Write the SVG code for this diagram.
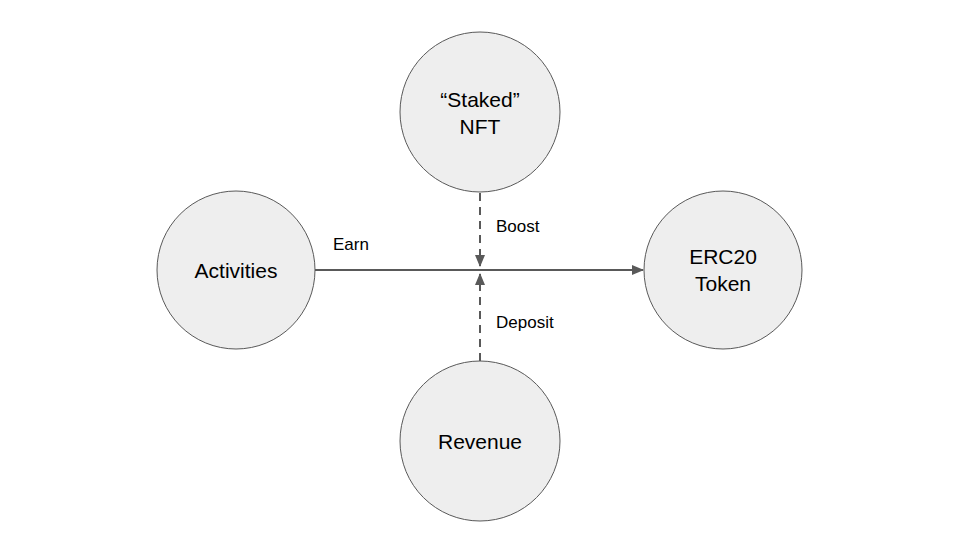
<svg xmlns="http://www.w3.org/2000/svg" width="960" height="540" viewBox="0 0 960 540">
<style>
.node circle{fill:#eeeeee;stroke:#595959;stroke-width:1}
.nt{font-family:"Liberation Sans",Arial,sans-serif;font-size:21px;fill:#000;text-anchor:middle}
.lbl{font-family:"Liberation Sans",Arial,sans-serif;font-size:17px;fill:#000}
.edge{stroke:#595959;stroke-width:2;fill:none}
.dash{stroke-dasharray:8,6}
</style>
<defs>
<marker id="arr" markerWidth="6" markerHeight="5" refX="5.5" refY="2.5" orient="auto" markerUnits="strokeWidth">
<path d="M0,0 L6,2.5 L0,5 Z" fill="#595959"/>
</marker>
</defs>
<rect width="960" height="540" fill="#ffffff"/>
<g id="connectors">
<line class="edge" x1="315" y1="270" x2="643" y2="270" marker-end="url(#arr)"/>
<line class="edge dash" x1="480" y1="193" x2="480" y2="266" marker-end="url(#arr)"/>
<line class="edge dash" x1="480" y1="361" x2="480" y2="274" marker-end="url(#arr)"/>
<text class="lbl" x="333" y="250">Earn</text>
<text class="lbl" x="496" y="232">Boost</text>
<text class="lbl" x="496" y="328">Deposit</text>
</g>
<g id="nft" class="node">
<circle cx="480" cy="112" r="80"/>
<text class="nt" x="480" y="107">“Staked”</text>
<text class="nt" x="480" y="134">NFT</text>
</g>
<g id="activities" class="node">
<circle cx="236" cy="270" r="79"/>
<text class="nt" x="236" y="278">Activities</text>
</g>
<g id="erc20" class="node">
<circle cx="723" cy="270" r="79"/>
<text class="nt" x="723" y="264">ERC20</text>
<text class="nt" x="723" y="291">Token</text>
</g>
<g id="revenue" class="node">
<circle cx="480" cy="441" r="80"/>
<text class="nt" x="480" y="449">Revenue</text>
</g>
</svg>
